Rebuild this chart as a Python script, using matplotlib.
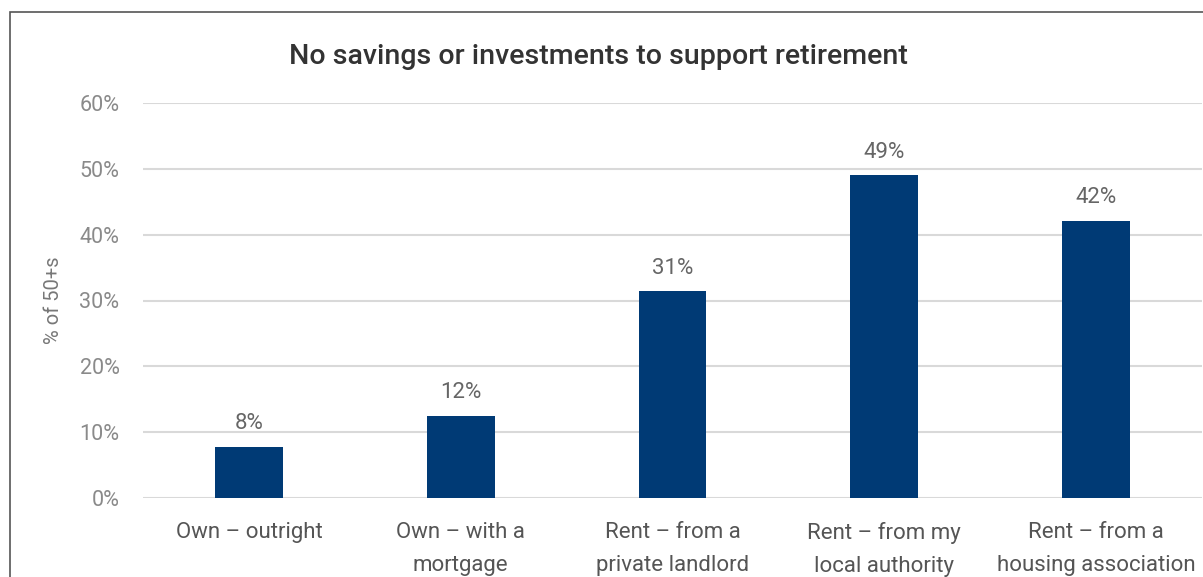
import matplotlib
matplotlib.use("Agg")
import matplotlib.pyplot as plt
from matplotlib.patches import Rectangle

categories = ["Own \u2013 outright", "Own \u2013 with a\nmortgage",
              "Rent \u2013 from a\nprivate landlord", "Rent \u2013 from my\nlocal authority",
              "Rent \u2013 from a\nhousing association"]
values = [7.8, 12.5, 31.4, 49.0, 42.1]
value_labels = ["8%", "12%", "31%", "49%", "42%"]
yticks = [0, 10, 20, 30, 40, 50, 60]
ytick_labels = ["0%", "10%", "20%", "30%", "40%", "50%", "60%"]

plt.rcParams['font.family'] = ['Roboto', 'DejaVu Sans']

W, H = 1203, 577
fig = plt.figure(figsize=(W / 100, H / 100), dpi=100)
ax = fig.add_axes([143 / W, 79 / H, 1059 / W, 395 / H])

x = range(len(categories))
ax.bar(x, values, width=0.32, color="#003a75", zorder=3)
for xi, v, lab in zip(x, values, value_labels):
    ax.text(xi, v + 1.9, lab, ha="center", va="bottom", fontsize=16, color="#666666")

ax.set_xlim(-0.5, 4.5)
ax.set_ylim(0, 60)
ax.set_yticks(yticks)
ax.set_yticklabels(ytick_labels, fontsize=15.5, color="#8a8a8a")
ax.set_xticks(list(x))
ax.set_xticklabels(categories, fontsize=16, color="#555555", linespacing=1.75)
ax.tick_params(axis="both", length=0)
ax.tick_params(axis="y", pad=17)
ax.tick_params(axis="x", pad=17)
ax.yaxis.grid(True, color="#d9d9d9", linewidth=1.5, zorder=0)
for s in ax.spines.values():
    s.set_visible(False)

ax.set_ylabel("% of 50+s", fontsize=14.5, color="#777777", labelpad=12)

fig.text(598 / W, 1 - 57 / H, "No savings or investments to support retirement",
         ha="center", va="center", fontsize=20.5, color="#333333", fontweight="medium")

# outer frame (cropped at right and bottom)
fig.patches.append(Rectangle((10 / W, -0.2), 1.2, 1.2 - 12 / H, transform=fig.transFigure,
                             fill=False, edgecolor="#555555", linewidth=1.2))

fig.savefig("out.png", dpi=100)
